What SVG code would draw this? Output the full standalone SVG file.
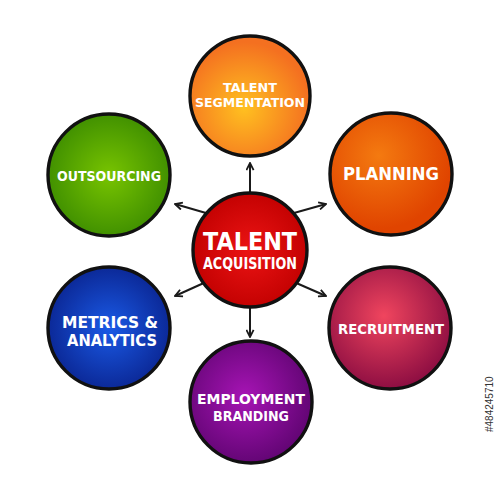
<svg xmlns="http://www.w3.org/2000/svg" width="500" height="500" viewBox="0 0 500 500">
<style>
.c{stroke:#111;stroke-width:3.4}
.t{fill:#fff;font-family:"DejaVu Sans",sans-serif;font-weight:bold;text-anchor:middle;dominant-baseline:central}
.a{stroke:#1a1a1a;stroke-width:2;fill:none;marker-end:url(#ah)}
</style>
<defs>
<marker id="ah" viewBox="0 0 10 10" refX="9" refY="5" markerWidth="9" markerHeight="9" orient="auto" markerUnits="userSpaceOnUse">
<path d="M1,1 L9,5 L1,9" fill="none" stroke="#1a1a1a" stroke-width="2"/>
</marker>
<radialGradient id="gSeg" cx="0.45" cy="0.6" r="0.55"><stop offset="0" stop-color="#ffc020"/><stop offset="1" stop-color="#f47020"/></radialGradient>
<radialGradient id="gPlan" cx="0.4" cy="0.35" r="0.6"><stop offset="0" stop-color="#f47a10"/><stop offset="1" stop-color="#e04400"/></radialGradient>
<radialGradient id="gOut" cx="0.5" cy="0.5" r="0.55"><stop offset="0" stop-color="#78c400"/><stop offset="1" stop-color="#3c8c00"/></radialGradient>
<radialGradient id="gMet" cx="0.5" cy="0.5" r="0.55"><stop offset="0" stop-color="#1a5ae6"/><stop offset="1" stop-color="#0a2490"/></radialGradient>
<radialGradient id="gRec" cx="0.45" cy="0.4" r="0.6"><stop offset="0" stop-color="#f0455e"/><stop offset="1" stop-color="#8e0e42"/></radialGradient>
<radialGradient id="gEmp" cx="0.45" cy="0.45" r="0.6"><stop offset="0" stop-color="#a614b4"/><stop offset="1" stop-color="#5e0470"/></radialGradient>
<radialGradient id="gCen" cx="0.5" cy="0.5" r="0.55"><stop offset="0" stop-color="#ec1414"/><stop offset="1" stop-color="#c00000"/></radialGradient>
</defs>
<rect width="500" height="500" fill="#fff"/>
<g id="connectors">
<line class="a" x1="250" y1="192" x2="250" y2="163"/>
<line class="a" x1="250" y1="308" x2="250" y2="337"/>
<line class="a" x1="206" y1="213" x2="175" y2="204"/>
<line class="a" x1="294" y1="213" x2="326" y2="204"/>
<line class="a" x1="206" y1="282" x2="175" y2="296"/>
<line class="a" x1="294" y1="282" x2="326" y2="296"/>
</g>
<g id="talent-segmentation">
<circle class="c" cx="250" cy="96" r="60" fill="url(#gSeg)"/>
<text class="t" x="250" y="87" font-size="13" textLength="54" lengthAdjust="spacingAndGlyphs">TALENT</text>
<text class="t" x="250" y="102" font-size="13" textLength="110" lengthAdjust="spacingAndGlyphs">SEGMENTATION</text>
</g>
<g id="planning">
<circle class="c" cx="391" cy="174" r="61" fill="url(#gPlan)"/>
<text class="t" x="391" y="174" font-size="17" textLength="96" lengthAdjust="spacingAndGlyphs">PLANNING</text>
</g>
<g id="outsourcing">
<circle class="c" cx="109" cy="175" r="61" fill="url(#gOut)"/>
<text class="t" x="109" y="176" font-size="14" textLength="104" lengthAdjust="spacingAndGlyphs">OUTSOURCING</text>
</g>
<g id="metrics-analytics">
<circle class="c" cx="109" cy="328" r="61" fill="url(#gMet)"/>
<text class="t" x="110" y="323" font-size="15" textLength="96" lengthAdjust="spacingAndGlyphs">METRICS &amp;</text>
<text class="t" x="112" y="341" font-size="15" textLength="90" lengthAdjust="spacingAndGlyphs">ANALYTICS</text>
</g>
<g id="recruitment">
<circle class="c" cx="390" cy="328" r="61" fill="url(#gRec)"/>
<text class="t" x="391" y="329" font-size="14" textLength="106" lengthAdjust="spacingAndGlyphs">RECRUITMENT</text>
</g>
<g id="employment-branding">
<circle class="c" cx="251" cy="402" r="61" fill="url(#gEmp)"/>
<text class="t" x="251" y="399" font-size="14" textLength="108" lengthAdjust="spacingAndGlyphs">EMPLOYMENT</text>
<text class="t" x="251" y="416" font-size="14" textLength="76" lengthAdjust="spacingAndGlyphs">BRANDING</text>
</g>
<g id="talent-acquisition">
<circle class="c" cx="250" cy="250" r="57" fill="url(#gCen)"/>
<text class="t" x="250" y="242" font-size="24" textLength="94" lengthAdjust="spacingAndGlyphs">TALENT</text>
<text class="t" x="250" y="264" font-size="15" textLength="94" lengthAdjust="spacingAndGlyphs">ACQUISITION</text>
</g>
<text x="0" y="0" transform="translate(493,432) rotate(-90)" font-family="Liberation Sans,sans-serif" font-size="10" fill="#333">#484245710</text>
</svg>
